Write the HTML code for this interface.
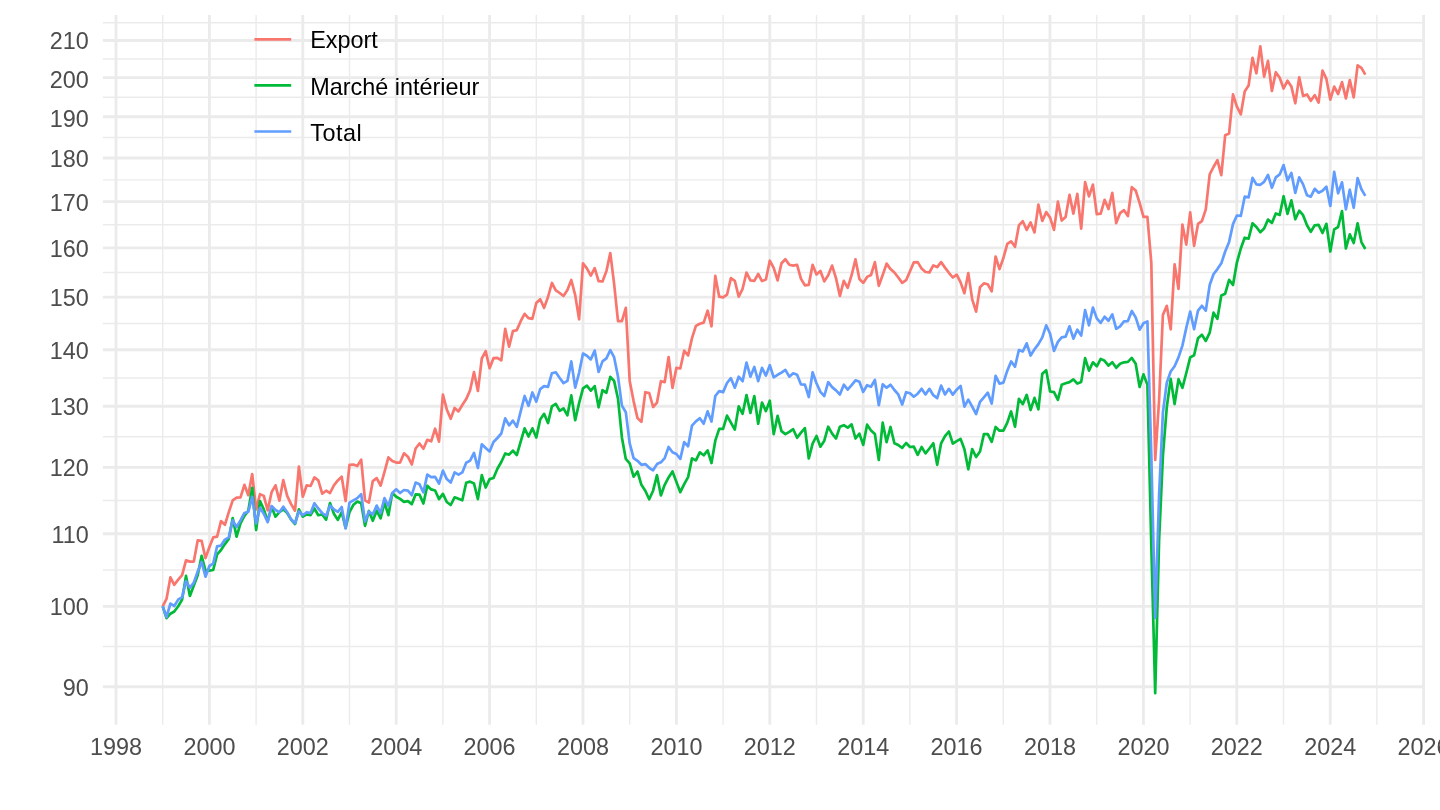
<!DOCTYPE html>
<html lang="fr"><head><meta charset="utf-8"><title>Indices</title>
<style>html,body{margin:0;padding:0;background:#fff;overflow:hidden}body{width:1440px;height:810px}</style></head>
<body>
<svg width="1440" height="810" viewBox="0 0 1440 810" style="display:block;will-change:transform;font-family:'Liberation Sans',Arial,Helvetica,sans-serif">
<rect width="1440" height="810" fill="#fff"/>
<g stroke="#ebebeb" fill="none" stroke-linecap="butt">
<line x1="102.9" x2="1425.0" y1="646.58" y2="646.58" stroke-width="1.42"/>
<line x1="102.9" x2="1425.0" y1="570.05" y2="570.05" stroke-width="1.42"/>
<line x1="102.9" x2="1425.0" y1="500.51" y2="500.51" stroke-width="1.42"/>
<line x1="102.9" x2="1425.0" y1="436.80" y2="436.80" stroke-width="1.42"/>
<line x1="102.9" x2="1425.0" y1="378.00" y2="378.00" stroke-width="1.42"/>
<line x1="102.9" x2="1425.0" y1="323.43" y2="323.43" stroke-width="1.42"/>
<line x1="102.9" x2="1425.0" y1="272.50" y2="272.50" stroke-width="1.42"/>
<line x1="102.9" x2="1425.0" y1="224.76" y2="224.76" stroke-width="1.42"/>
<line x1="102.9" x2="1425.0" y1="179.84" y2="179.84" stroke-width="1.42"/>
<line x1="102.9" x2="1425.0" y1="137.42" y2="137.42" stroke-width="1.42"/>
<line x1="102.9" x2="1425.0" y1="97.23" y2="97.23" stroke-width="1.42"/>
<line x1="102.9" x2="1425.0" y1="59.06" y2="59.06" stroke-width="1.42"/>
<line x1="102.9" x2="1425.0" y1="22.71" y2="22.71" stroke-width="1.42"/>
<line x1="162.70" x2="162.70" y1="15.0" y2="724.8" stroke-width="1.42"/>
<line x1="256.10" x2="256.10" y1="15.0" y2="724.8" stroke-width="1.42"/>
<line x1="349.50" x2="349.50" y1="15.0" y2="724.8" stroke-width="1.42"/>
<line x1="442.90" x2="442.90" y1="15.0" y2="724.8" stroke-width="1.42"/>
<line x1="536.30" x2="536.30" y1="15.0" y2="724.8" stroke-width="1.42"/>
<line x1="629.70" x2="629.70" y1="15.0" y2="724.8" stroke-width="1.42"/>
<line x1="723.10" x2="723.10" y1="15.0" y2="724.8" stroke-width="1.42"/>
<line x1="816.50" x2="816.50" y1="15.0" y2="724.8" stroke-width="1.42"/>
<line x1="909.90" x2="909.90" y1="15.0" y2="724.8" stroke-width="1.42"/>
<line x1="1003.30" x2="1003.30" y1="15.0" y2="724.8" stroke-width="1.42"/>
<line x1="1096.70" x2="1096.70" y1="15.0" y2="724.8" stroke-width="1.42"/>
<line x1="1190.10" x2="1190.10" y1="15.0" y2="724.8" stroke-width="1.42"/>
<line x1="1283.50" x2="1283.50" y1="15.0" y2="724.8" stroke-width="1.42"/>
<line x1="1376.90" x2="1376.90" y1="15.0" y2="724.8" stroke-width="1.42"/>
<line x1="102.9" x2="1425.0" y1="686.77" y2="686.77" stroke-width="2.85"/>
<line x1="102.9" x2="1425.0" y1="606.40" y2="606.40" stroke-width="2.85"/>
<line x1="102.9" x2="1425.0" y1="533.70" y2="533.70" stroke-width="2.85"/>
<line x1="102.9" x2="1425.0" y1="467.33" y2="467.33" stroke-width="2.85"/>
<line x1="102.9" x2="1425.0" y1="406.27" y2="406.27" stroke-width="2.85"/>
<line x1="102.9" x2="1425.0" y1="349.74" y2="349.74" stroke-width="2.85"/>
<line x1="102.9" x2="1425.0" y1="297.11" y2="297.11" stroke-width="2.85"/>
<line x1="102.9" x2="1425.0" y1="247.88" y2="247.88" stroke-width="2.85"/>
<line x1="102.9" x2="1425.0" y1="201.64" y2="201.64" stroke-width="2.85"/>
<line x1="102.9" x2="1425.0" y1="158.04" y2="158.04" stroke-width="2.85"/>
<line x1="102.9" x2="1425.0" y1="116.79" y2="116.79" stroke-width="2.85"/>
<line x1="102.9" x2="1425.0" y1="77.67" y2="77.67" stroke-width="2.85"/>
<line x1="102.9" x2="1425.0" y1="40.45" y2="40.45" stroke-width="2.85"/>
<line x1="116.00" x2="116.00" y1="15.0" y2="724.8" stroke-width="2.85"/>
<line x1="209.40" x2="209.40" y1="15.0" y2="724.8" stroke-width="2.85"/>
<line x1="302.80" x2="302.80" y1="15.0" y2="724.8" stroke-width="2.85"/>
<line x1="396.20" x2="396.20" y1="15.0" y2="724.8" stroke-width="2.85"/>
<line x1="489.60" x2="489.60" y1="15.0" y2="724.8" stroke-width="2.85"/>
<line x1="583.00" x2="583.00" y1="15.0" y2="724.8" stroke-width="2.85"/>
<line x1="676.40" x2="676.40" y1="15.0" y2="724.8" stroke-width="2.85"/>
<line x1="769.80" x2="769.80" y1="15.0" y2="724.8" stroke-width="2.85"/>
<line x1="863.20" x2="863.20" y1="15.0" y2="724.8" stroke-width="2.85"/>
<line x1="956.60" x2="956.60" y1="15.0" y2="724.8" stroke-width="2.85"/>
<line x1="1050.00" x2="1050.00" y1="15.0" y2="724.8" stroke-width="2.85"/>
<line x1="1143.40" x2="1143.40" y1="15.0" y2="724.8" stroke-width="2.85"/>
<line x1="1236.80" x2="1236.80" y1="15.0" y2="724.8" stroke-width="2.85"/>
<line x1="1330.20" x2="1330.20" y1="15.0" y2="724.8" stroke-width="2.85"/>
<line x1="1423.60" x2="1423.60" y1="15.0" y2="724.8" stroke-width="2.85"/>
</g>
<g fill="none" stroke-width="2.7" stroke-linejoin="round" stroke-linecap="butt">
<polyline stroke="#F8766D" points="162.7,606.3 166.5,598.9 170.4,577.4 174.3,584.8 178.2,579.6 182.1,575.2 186.0,560.4 189.9,561.6 193.8,561.6 197.7,540.4 201.6,540.8 205.5,558.1 209.4,547.0 213.2,537.4 217.1,536.7 221.0,521.1 224.9,524.8 228.8,512.2 232.7,500.4 236.6,497.7 240.5,497.4 244.4,484.8 248.3,495.2 252.2,474.0 256.1,509.3 260.0,494.1 263.8,495.9 267.7,510.4 271.6,492.2 275.5,485.3 279.4,500.7 283.3,480.1 287.2,495.9 291.1,504.1 295.0,510.7 298.9,466.6 302.8,496.7 306.7,485.3 310.6,486.0 314.4,477.4 318.3,480.4 322.2,493.7 326.1,490.7 330.0,493.0 333.9,485.3 337.8,480.4 341.7,476.7 345.6,501.1 349.5,464.8 353.4,464.5 357.3,466.0 361.2,459.6 365.0,500.4 368.9,502.6 372.8,481.1 376.7,478.1 380.6,485.6 384.5,471.9 388.4,457.4 392.3,461.1 396.2,462.6 400.1,462.6 404.0,453.3 407.9,456.7 411.8,464.5 415.6,448.5 419.5,443.5 423.4,448.7 427.3,439.8 431.2,441.3 435.1,428.7 439.0,441.6 442.9,394.6 446.8,409.4 450.7,418.8 454.6,408.0 458.5,411.4 462.3,405.0 466.2,399.1 470.1,390.2 474.0,372.0 477.9,391.0 481.8,358.5 485.7,351.1 489.6,368.3 493.5,358.2 497.4,357.8 501.3,360.3 505.2,328.9 509.1,346.7 512.9,331.1 516.8,330.1 520.7,321.2 524.6,313.8 528.5,318.2 532.4,318.8 536.3,303.0 540.2,299.3 544.1,307.9 548.0,297.0 551.9,283.0 555.8,290.4 559.7,293.0 563.5,296.0 567.4,290.1 571.3,280.0 575.2,295.1 579.1,319.3 583.0,263.4 586.9,268.4 590.8,275.6 594.7,268.1 598.6,281.2 602.5,281.5 606.4,271.1 610.3,253.0 614.1,283.7 618.0,321.2 621.9,321.2 625.8,307.9 629.7,380.9 633.6,401.1 637.5,418.1 641.4,421.9 645.3,392.2 649.2,393.0 653.1,407.0 657.0,402.6 660.9,381.2 664.7,382.1 668.6,357.0 672.5,387.9 676.4,367.8 680.3,368.5 684.2,350.7 688.1,355.5 692.0,338.1 695.9,325.9 699.8,323.8 703.7,322.6 707.6,310.7 711.5,326.3 715.3,275.9 719.2,296.7 723.1,297.4 727.0,294.7 730.9,278.1 734.8,280.8 738.7,296.7 742.6,288.8 746.5,272.5 750.4,280.4 754.3,280.8 758.2,274.0 762.0,281.1 765.9,279.6 769.8,260.7 773.7,267.8 777.6,280.4 781.5,263.3 785.4,259.2 789.3,264.8 793.2,265.6 797.1,264.8 801.0,278.9 804.9,285.3 808.8,284.8 812.6,264.8 816.5,274.4 820.4,271.0 824.3,281.4 828.2,275.2 832.1,265.6 836.0,278.1 839.9,295.9 843.8,280.8 847.7,287.8 851.6,275.2 855.5,259.4 859.4,279.0 863.2,282.9 867.1,276.9 871.0,275.0 874.9,262.1 878.8,285.8 882.7,275.0 886.6,263.6 890.5,269.1 894.4,272.5 898.3,277.5 902.2,282.9 906.1,280.2 910.0,271.3 913.8,262.4 917.7,262.1 921.6,268.6 925.5,272.0 929.4,272.5 933.3,265.4 937.2,267.1 941.1,262.1 945.0,267.6 948.9,272.8 952.8,277.5 956.7,274.6 960.6,282.4 964.4,293.2 968.3,273.1 972.2,299.4 976.1,311.6 980.0,287.3 983.9,283.4 987.8,284.3 991.7,291.3 995.6,256.5 999.5,269.1 1003.4,258.0 1007.3,243.9 1011.1,241.3 1015.0,246.8 1018.9,225.4 1022.8,221.3 1026.7,229.9 1030.6,222.5 1034.5,232.4 1038.4,204.7 1042.3,221.0 1046.2,212.1 1050.1,217.6 1054.0,229.9 1057.9,201.7 1061.7,220.6 1065.6,216.9 1069.5,194.9 1073.4,213.6 1077.3,193.9 1081.2,228.7 1085.1,182.0 1089.0,196.4 1092.9,184.6 1096.8,214.2 1100.7,213.6 1104.6,199.8 1108.5,209.1 1112.3,192.9 1116.2,223.1 1120.1,213.1 1124.0,210.2 1127.9,216.1 1131.8,187.2 1135.7,190.5 1139.6,202.8 1143.5,216.9 1147.4,216.9 1151.3,262.8 1155.2,460.0 1159.1,400.0 1162.9,314.9 1166.8,305.8 1170.7,329.3 1174.6,264.3 1178.5,289.0 1182.4,224.5 1186.3,244.6 1190.2,212.4 1194.1,245.8 1198.0,223.9 1201.9,221.1 1205.8,209.3 1209.7,174.4 1213.5,167.0 1217.4,160.1 1221.3,175.2 1225.2,135.2 1229.1,133.4 1233.0,94.4 1236.9,106.7 1240.8,114.4 1244.7,91.5 1248.6,85.6 1252.5,57.9 1256.4,73.3 1260.3,46.3 1264.1,76.7 1268.0,60.8 1271.9,91.0 1275.8,72.2 1279.7,77.7 1283.6,88.5 1287.5,80.7 1291.4,86.6 1295.3,103.3 1299.2,77.4 1303.1,95.9 1307.0,94.4 1310.8,100.8 1314.7,95.2 1318.6,102.6 1322.5,70.7 1326.4,78.9 1330.3,99.6 1334.2,86.6 1338.1,94.0 1342.0,82.1 1345.9,98.4 1349.8,80.1 1353.7,97.4 1357.6,65.3 1361.4,67.8 1365.3,74.7"/>
<polyline stroke="#00BA38" points="162.7,606.3 166.5,618.1 170.4,613.7 174.3,611.5 178.2,606.3 182.1,599.6 186.0,575.9 189.9,595.9 193.8,585.6 197.7,575.2 201.6,555.9 205.5,570.7 209.4,570.7 213.2,570.0 217.1,554.4 221.0,550.0 224.9,544.1 228.8,538.9 232.7,518.1 236.6,536.7 240.5,523.3 244.4,515.9 248.3,510.7 252.2,487.8 256.1,530.0 260.0,501.1 263.8,509.3 267.7,521.1 271.6,507.0 275.5,516.7 279.4,512.2 283.3,509.3 287.2,513.0 291.1,519.6 295.0,524.1 298.9,509.3 302.8,516.7 306.7,514.4 310.6,515.2 314.4,508.5 318.3,515.2 322.2,514.4 326.1,519.6 330.0,503.0 333.9,513.7 337.8,519.9 341.7,512.2 345.6,527.8 349.5,512.2 353.4,504.8 357.3,501.6 361.2,503.3 365.0,525.9 368.9,511.0 372.8,520.8 376.7,510.7 380.6,518.4 384.5,502.6 388.4,515.2 392.3,493.0 396.2,496.7 400.1,498.9 404.0,501.9 407.9,501.1 411.8,504.1 415.6,494.4 419.5,494.6 423.4,503.5 427.3,485.7 431.2,489.4 435.1,490.5 439.0,499.1 442.9,493.9 446.8,502.0 450.7,505.0 454.6,497.3 458.5,498.8 462.3,500.3 466.2,482.8 470.1,481.6 474.0,483.5 477.9,499.1 481.8,475.1 485.7,487.5 489.6,479.1 493.5,478.0 497.4,468.7 501.3,462.0 505.2,453.5 509.1,454.7 512.9,450.6 516.8,455.0 520.7,441.7 524.6,428.3 528.5,436.5 532.4,428.3 536.3,437.5 540.2,419.4 544.1,413.8 548.0,423.1 551.9,406.4 555.8,403.9 559.7,410.9 563.5,408.3 567.4,415.3 571.3,395.4 575.2,420.2 579.1,403.1 583.0,388.3 586.9,385.7 590.8,390.6 594.7,386.1 598.6,407.3 602.5,390.1 606.4,392.8 610.3,376.8 614.1,380.9 618.0,398.7 621.9,437.4 625.8,458.9 629.7,463.3 633.6,476.7 637.5,471.5 641.4,484.8 645.3,490.7 649.2,499.3 653.1,490.7 657.0,475.2 660.9,495.5 664.7,484.8 668.6,477.4 672.5,471.5 676.4,481.9 680.3,492.2 684.2,484.1 688.1,477.1 692.0,458.4 695.9,460.4 699.8,452.3 703.7,455.3 707.6,450.4 711.5,463.0 715.3,440.7 719.2,428.9 723.1,428.9 727.0,415.6 730.9,422.7 734.8,429.6 738.7,406.4 742.6,413.8 746.5,395.1 750.4,412.9 754.3,396.0 758.2,423.7 762.0,402.5 765.9,411.1 769.8,400.7 773.7,434.1 777.6,415.9 781.5,431.1 785.4,434.1 789.3,431.9 793.2,429.2 797.1,437.8 801.0,432.6 804.9,428.1 808.8,458.5 812.6,443.7 816.5,436.0 820.4,446.7 824.3,440.7 828.2,426.7 832.1,433.6 836.0,438.5 839.9,426.7 843.8,425.2 847.7,427.7 851.6,424.4 855.5,438.5 859.4,433.6 863.2,444.9 867.1,424.7 871.0,430.4 874.9,434.1 878.8,460.0 882.7,422.7 886.6,442.2 890.5,427.0 894.4,443.3 898.3,445.1 902.2,447.8 906.1,443.0 910.0,447.0 913.8,446.6 917.7,454.9 921.6,447.0 925.5,453.4 929.4,448.5 933.3,443.3 937.2,464.8 941.1,443.3 945.0,436.2 948.9,431.5 952.8,443.6 956.7,441.1 960.6,438.9 964.4,449.3 968.3,469.3 972.2,449.0 976.1,457.0 980.0,451.5 983.9,434.1 987.8,434.1 991.7,441.9 995.6,427.0 999.5,430.7 1003.4,430.7 1007.3,422.6 1011.1,411.5 1015.0,426.7 1018.9,398.9 1022.8,404.1 1026.7,394.9 1030.6,410.0 1034.5,397.9 1038.4,409.3 1042.3,373.7 1046.2,370.3 1050.1,391.5 1054.0,392.2 1057.9,399.9 1061.7,384.8 1065.6,383.3 1069.5,382.1 1073.4,379.3 1077.3,383.6 1081.2,381.9 1085.1,358.1 1089.0,370.7 1092.9,362.3 1096.8,366.3 1100.7,358.9 1104.6,360.8 1108.5,365.6 1112.3,362.3 1116.2,367.8 1120.1,363.8 1124.0,362.3 1127.9,361.9 1131.8,357.9 1135.7,363.8 1139.6,387.0 1143.5,374.4 1147.4,384.8 1151.3,545.0 1155.2,693.2 1159.1,540.0 1162.9,456.0 1166.8,407.0 1170.7,378.9 1174.6,404.1 1178.5,379.2 1182.4,387.8 1186.3,373.0 1190.2,357.4 1194.1,355.2 1198.0,338.3 1201.9,334.8 1205.8,340.9 1209.7,332.7 1213.5,312.7 1217.4,318.9 1221.3,295.4 1225.2,293.7 1229.1,279.8 1233.0,285.0 1236.9,262.6 1240.8,248.5 1244.7,237.7 1248.6,238.6 1252.5,223.3 1256.4,227.0 1260.3,232.2 1264.1,228.5 1268.0,219.6 1271.9,222.9 1275.8,213.4 1279.7,214.9 1283.6,196.2 1287.5,214.0 1291.4,200.4 1295.3,219.3 1299.2,210.7 1303.1,215.2 1307.0,225.3 1310.8,231.8 1314.7,225.3 1318.6,224.8 1322.5,233.0 1326.4,223.8 1330.3,251.5 1334.2,229.3 1338.1,227.0 1342.0,211.0 1345.9,248.5 1349.8,234.4 1353.7,243.0 1357.6,223.3 1361.4,242.1 1365.3,249.0"/>
<polyline stroke="#619CFF" points="162.7,606.3 166.5,617.0 170.4,603.6 174.3,606.0 178.2,599.6 182.1,597.1 186.0,581.1 189.9,587.8 193.8,582.6 197.7,571.5 201.6,561.9 205.5,576.7 209.4,566.0 213.2,563.6 217.1,546.3 221.0,545.6 224.9,539.6 228.8,537.4 232.7,520.4 236.6,527.0 240.5,520.4 244.4,513.0 248.3,511.9 252.2,496.7 256.1,523.3 260.0,507.8 263.8,513.7 267.7,522.1 271.6,506.0 275.5,510.0 279.4,512.2 283.3,506.7 287.2,512.2 291.1,519.3 295.0,523.3 298.9,511.5 302.8,515.2 306.7,512.2 310.6,513.0 314.4,503.3 318.3,508.5 322.2,513.0 326.1,515.9 330.0,505.6 333.9,509.3 337.8,511.9 341.7,507.0 345.6,528.5 349.5,502.6 353.4,500.4 357.3,498.1 361.2,494.1 365.0,521.4 368.9,511.5 372.8,514.4 376.7,505.6 380.6,513.0 384.5,498.1 388.4,506.0 392.3,493.0 396.2,489.3 400.1,493.0 404.0,490.0 407.9,490.7 411.8,495.2 415.6,482.6 419.5,484.3 423.4,492.4 427.3,474.6 431.2,477.1 435.1,476.9 439.0,483.5 442.9,470.6 446.8,479.1 450.7,482.5 454.6,472.4 458.5,474.6 462.3,472.4 466.2,462.8 470.1,460.6 474.0,452.9 477.9,468.0 481.8,444.3 485.7,448.0 489.6,451.4 493.5,442.0 497.4,438.0 501.3,433.5 505.2,418.3 509.1,425.4 512.9,420.6 516.8,426.9 520.7,411.3 524.6,396.0 528.5,405.8 532.4,392.5 536.3,401.7 540.2,389.1 544.1,386.1 548.0,386.9 551.9,373.2 555.8,372.3 559.7,378.0 563.5,383.1 567.4,380.9 571.3,361.4 575.2,387.6 579.1,372.8 583.0,353.5 586.9,355.7 590.8,359.4 594.7,350.6 598.6,372.0 602.5,361.4 606.4,358.4 610.3,350.1 614.1,357.2 618.0,376.5 621.9,405.6 625.8,412.2 629.7,443.3 633.6,458.1 637.5,460.8 641.4,464.8 645.3,464.1 649.2,467.8 653.1,470.3 657.0,464.1 660.9,462.3 664.7,458.1 668.6,447.0 672.5,452.2 676.4,454.0 680.3,458.9 684.2,442.1 688.1,446.3 692.0,425.6 695.9,421.4 699.8,418.2 703.7,423.7 707.6,411.4 711.5,421.5 715.3,396.0 719.2,391.1 723.1,392.1 727.0,383.0 730.9,378.2 734.8,387.7 738.7,376.7 742.6,381.2 746.5,362.5 750.4,376.7 754.3,367.0 758.2,381.2 762.0,367.9 765.9,375.6 769.8,365.2 773.7,377.3 777.6,374.8 781.5,372.6 785.4,369.9 789.3,376.7 793.2,373.3 797.1,374.8 801.0,384.4 804.9,384.7 808.8,397.0 812.6,372.3 816.5,383.3 820.4,391.9 824.3,396.0 828.2,382.2 832.1,387.1 836.0,390.4 839.9,394.5 843.8,384.7 847.7,389.6 851.6,385.2 855.5,380.3 859.4,381.8 863.2,391.9 867.1,385.2 871.0,386.7 874.9,380.0 878.8,405.2 882.7,384.4 886.6,387.7 890.5,384.8 894.4,390.0 898.3,394.4 902.2,404.5 906.1,392.2 910.0,393.3 913.8,396.7 917.7,393.7 921.6,388.8 925.5,394.4 929.4,388.8 933.3,395.2 937.2,398.1 941.1,385.6 945.0,394.4 948.9,388.8 952.8,394.7 956.7,389.7 960.6,385.9 964.4,406.6 968.3,399.6 972.2,406.6 976.1,414.0 980.0,401.9 983.9,397.4 987.8,392.7 991.7,403.6 995.6,375.9 999.5,383.6 1003.4,382.6 1007.3,370.7 1011.1,361.4 1015.0,366.7 1018.9,350.0 1022.8,351.5 1026.7,343.3 1030.6,355.5 1034.5,349.3 1038.4,344.1 1042.3,337.4 1046.2,325.3 1050.1,333.7 1054.0,351.0 1057.9,341.9 1061.7,337.4 1065.6,336.7 1069.5,326.3 1073.4,338.6 1077.3,329.7 1081.2,335.6 1085.1,310.0 1089.0,325.3 1092.9,307.5 1096.8,318.4 1100.7,322.9 1104.6,316.7 1108.5,320.8 1112.3,314.4 1116.2,328.8 1120.1,326.3 1124.0,321.4 1127.9,321.1 1131.8,311.0 1135.7,317.4 1139.6,329.7 1143.5,323.3 1147.4,321.4 1151.3,455.0 1155.2,617.8 1159.1,495.0 1162.9,412.6 1166.8,382.6 1170.7,371.5 1174.6,366.3 1178.5,357.4 1182.4,345.6 1186.3,327.9 1190.2,311.5 1194.1,329.3 1198.0,310.6 1201.9,305.8 1205.8,310.6 1209.7,285.0 1213.5,274.3 1217.4,269.1 1221.3,263.3 1225.2,251.5 1229.1,241.9 1233.0,224.1 1236.9,215.5 1240.8,215.9 1244.7,196.7 1248.6,197.4 1252.5,177.9 1256.4,184.4 1260.3,184.8 1264.1,181.9 1268.0,174.9 1271.9,187.8 1275.8,177.4 1279.7,174.4 1283.6,165.1 1287.5,180.4 1291.4,173.0 1295.3,193.0 1299.2,177.4 1303.1,184.4 1307.0,195.2 1310.8,196.7 1314.7,188.8 1318.6,192.7 1322.5,190.7 1326.4,186.7 1330.3,206.0 1334.2,171.9 1338.1,193.3 1342.0,182.3 1345.9,209.3 1349.8,189.7 1353.7,207.8 1357.6,178.1 1361.4,189.3 1365.3,195.9"/>
<line x1="254.4" x2="291.2" y1="39.4" y2="39.4" stroke="#F8766D"/>
<line x1="254.4" x2="291.2" y1="85.4" y2="85.4" stroke="#00BA38"/>
<line x1="254.4" x2="291.2" y1="131.5" y2="131.5" stroke="#619CFF"/>
</g>
<g font-size="23.4px" fill="#000">
<text x="310.2" y="48.1" letter-spacing="0">Export</text>
<text x="310.2" y="95.0" letter-spacing="0">Marché intérieur</text>
<text x="310.2" y="140.7" letter-spacing="0.5">Total</text>
</g>
<g font-size="23.4px" fill="#4d4d4d" text-anchor="end">
<text x="88.7" y="695.6">90</text>
<text x="88.7" y="615.2">100</text>
<text x="88.7" y="543.4">110</text>
<text x="88.7" y="476.1">120</text>
<text x="88.7" y="415.1">130</text>
<text x="88.7" y="359.3">140</text>
<text x="88.7" y="305.9">150</text>
<text x="88.7" y="256.7">160</text>
<text x="88.7" y="211.3">170</text>
<text x="88.7" y="166.8">180</text>
<text x="88.7" y="126.6">190</text>
<text x="88.7" y="87.5">200</text>
<text x="88.7" y="49.3">210</text>
</g>
<g font-size="23.4px" fill="#4d4d4d" text-anchor="middle">
<text x="116.0" y="754.8">1998</text>
<text x="209.4" y="754.8">2000</text>
<text x="302.8" y="754.8">2002</text>
<text x="396.2" y="754.8">2004</text>
<text x="489.6" y="754.8">2006</text>
<text x="583.0" y="754.8">2008</text>
<text x="676.4" y="754.8">2010</text>
<text x="769.8" y="754.8">2012</text>
<text x="863.2" y="754.8">2014</text>
<text x="956.6" y="754.8">2016</text>
<text x="1050.0" y="754.8">2018</text>
<text x="1143.4" y="754.8">2020</text>
<text x="1236.8" y="754.8">2022</text>
<text x="1330.2" y="754.8">2024</text>
<text x="1423.6" y="754.8">2026</text>
</g>
</svg>
</body></html>
